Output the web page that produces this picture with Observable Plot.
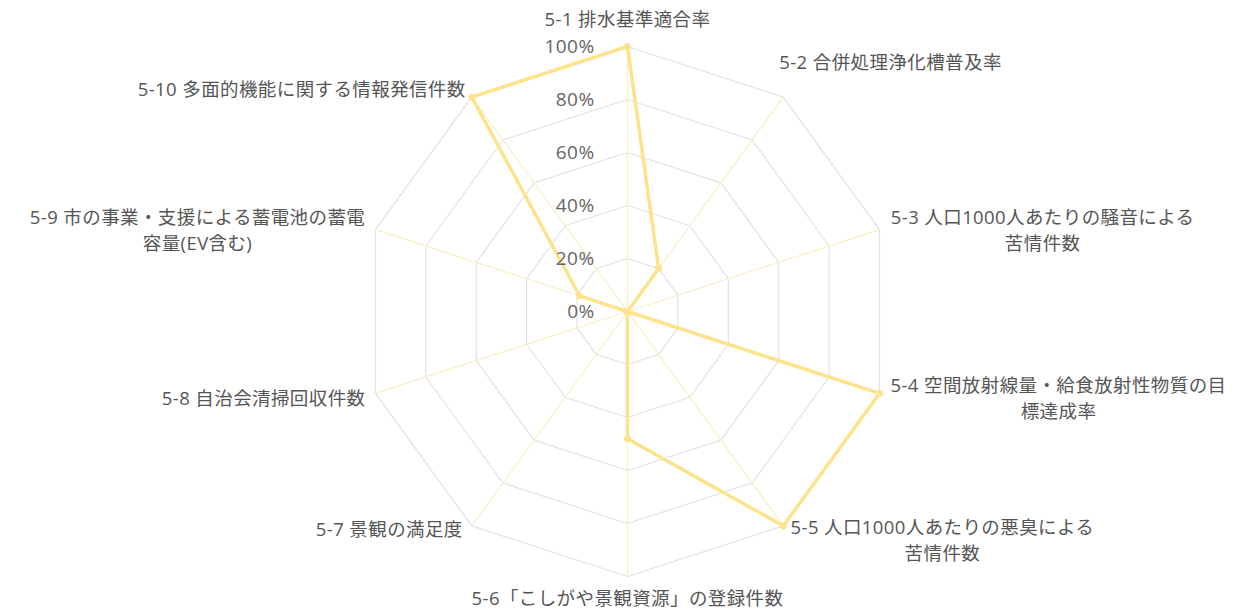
<!DOCTYPE html>
<html><head><meta charset="utf-8">
<script src="https://cdn.jsdelivr.net/npm/d3@7"></script>
<script src="https://cdn.jsdelivr.net/npm/@observablehq/plot@0.6"></script>
<style>body{margin:0;background:#fff;overflow:hidden}</style>
</head><body><div id="chart"></div>
<script>
const categories = [
  "5-1 排水基準適合率",
  "5-2 合併処理浄化槽普及率",
  "5-3 人口1000人あたりの騒音による\n苦情件数",
  "5-4 空間放射線量・給食放射性物質の目\n標達成率",
  "5-5 人口1000人あたりの悪臭による\n苦情件数",
  "5-6「こしがや景観資源」の登録件数",
  "5-7 景観の満足度",
  "5-8 自治会清掃回収件数",
  "5-9 市の事業・支援による蓄電池の蓄電\n容量(EV含む)",
  "5-10 多面的機能に関する情報発信件数"
];
const values = [100, 20, 0, 100, 100, 48, 0, 0, 19, 100];
const tickValues = [0, 20, 40, 60, 80, 100];
const tickLabels = ["0%", "20%", "40%", "60%", "80%", "100%"];

// layout (px): horizontal gap from vertex and vertical shift of label block
const labelLayout = [[0,-29],[-4,-36],[11,-1],[11,3],[7,13],[0,20],[9,2],[10,3],[10,-1],[6,-9]];

const W = 1242, H = 609, cx = 627, cy = 311, R = 265;
const k = R / 100;
const n = categories.length;
const ang = i => i * 2 * Math.PI / n;
const px = (i, v) => v * Math.sin(ang(i));
const py = (i, v) => v * Math.cos(ang(i));

const fontFam = "'Open Sans', 'Noto Sans CJK JP', sans-serif";
const fs = 18.5;
const ctx = document.createElement("canvas").getContext("2d");
ctx.font = `${fs}px ${fontFam}`;
try { ctx.letterSpacing = "0.4px"; } catch (e) {}

const rings = tickValues.filter(t => t > 0).flatMap(t => categories.map((c, i) => ({ring: t, x: px(i, t), y: py(i, t)})));
const spokes = categories.map((c, i) => ({x2: px(i, 100), y2: py(i, 100)}));
const pts = values.map((v, i) => ({x: px(i, v), y: py(i, v), v}));

const labels = categories.map((c, i) => {
  const vx = px(i, 100), vy = py(i, 100);
  const [gap, dy] = labelLayout[i];
  const w = Math.max(...c.split("\n").map(l => ctx.measureText(l).width));
  const s = Math.sin(ang(i));
  let x;
  if (Math.abs(s) < 1e-6) x = vx;
  else if (s > 0) x = vx + (gap + w / 2) / k;
  else x = vx - (gap + w / 2) / k;
  return {text: c, x, y: vy - dy / k};
});

const ticks = tickValues.map((t, j) => ({x: 0, y: t, label: tickLabels[j]}));

const chart = Plot.plot({
  width: W, height: H,
  margin: 0,
  x: {type: "linear", domain: [-cx / k, (W - cx) / k], range: [0, W], axis: null},
  y: {type: "linear", domain: [-(H - cy) / k, cy / k], range: [H, 0], axis: null},
  style: {fontFamily: fontFam, background: "#fff", letterSpacing: "0.4px"},
  marks: [
    Plot.line(rings, {x: "x", y: "y", z: "ring", curve: "linear-closed", stroke: "#e2e0e8", strokeWidth: 1.2}),
    Plot.link(spokes, {x1: 0, y1: 0, x2: "x2", y2: "y2", stroke: "#fbeec4", strokeWidth: 1.2}),
    Plot.line(pts, {x: "x", y: "y", curve: "linear-closed", stroke: "#fde38c", strokeWidth: 3.5, strokeLinejoin: "round"}),
    Plot.dot(pts, {x: "x", y: "y", r: 3.5, fill: "#fde38c"}),
    Plot.text(ticks, {x: "x", y: "y", text: "label", textAnchor: "end", dx: -33, fontSize: 19, fill: "#666"}),
    Plot.text(labels, {x: "x", y: "y", text: "text", textAnchor: "middle", lineAnchor: "middle", fontSize: fs, lineHeight: 1.4, fill: "#555"})
  ]
});
document.getElementById("chart").appendChild(chart);
</script>
</body></html>
